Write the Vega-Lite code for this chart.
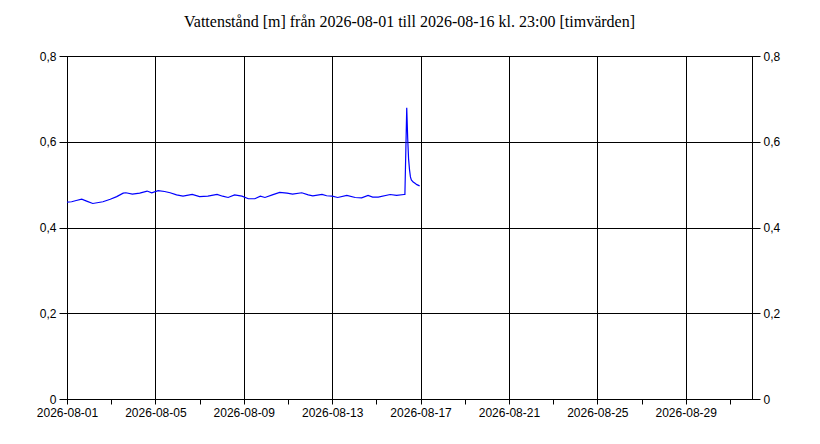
{
  "$schema": "https://vega.github.io/schema/vega-lite/v6.json",
  "width": 685,
  "height": 343,
  "autosize": "none",
  "padding": {"left": 67, "top": 56, "right": 68, "bottom": 45},
  "background": "white",
  "title": {
    "text": "Vattenstånd [m] från 2026-08-01 till 2026-08-16 kl. 23:00 [timvärden]",
    "font": "Liberation Serif",
    "fontSize": 16,
    "fontWeight": "normal",
    "color": "black",
    "anchor": "middle",
    "offset": 20
  },
  "config": {
    "view": {"stroke": "black", "strokeWidth": 1},
    "axis": {
      "domainColor": "black",
      "tickColor": "black",
      "labelColor": "black",
      "labelFont": "Liberation Sans",
      "labelFontSize": 12,
      "gridColor": "black",
      "gridOpacity": 1,
      "gridWidth": 1,
      "title": null
    }
  },
  "data": {
    "values": [
      {"t": "2026-08-01T00:00:00Z", "v": 0.459},
      {"t": "2026-08-01T05:00:00Z", "v": 0.460},
      {"t": "2026-08-01T10:00:00Z", "v": 0.463},
      {"t": "2026-08-01T16:00:00Z", "v": 0.466},
      {"t": "2026-08-01T22:00:00Z", "v": 0.461},
      {"t": "2026-08-02T04:00:00Z", "v": 0.456},
      {"t": "2026-08-02T15:00:00Z", "v": 0.460},
      {"t": "2026-08-02T23:00:00Z", "v": 0.466},
      {"t": "2026-08-03T06:00:00Z", "v": 0.472},
      {"t": "2026-08-03T13:00:00Z", "v": 0.480},
      {"t": "2026-08-03T16:00:00Z", "v": 0.481},
      {"t": "2026-08-03T23:00:00Z", "v": 0.478},
      {"t": "2026-08-04T07:00:00Z", "v": 0.480},
      {"t": "2026-08-04T15:00:00Z", "v": 0.485},
      {"t": "2026-08-04T20:00:00Z", "v": 0.481},
      {"t": "2026-08-05T03:00:00Z", "v": 0.486},
      {"t": "2026-08-05T10:00:00Z", "v": 0.484},
      {"t": "2026-08-05T16:00:00Z", "v": 0.481},
      {"t": "2026-08-05T23:00:00Z", "v": 0.476},
      {"t": "2026-08-06T06:00:00Z", "v": 0.473},
      {"t": "2026-08-06T16:00:00Z", "v": 0.477},
      {"t": "2026-08-07T00:00:00Z", "v": 0.472},
      {"t": "2026-08-07T09:00:00Z", "v": 0.473},
      {"t": "2026-08-07T19:00:00Z", "v": 0.477},
      {"t": "2026-08-08T01:00:00Z", "v": 0.473},
      {"t": "2026-08-08T07:00:00Z", "v": 0.470},
      {"t": "2026-08-08T14:00:00Z", "v": 0.476},
      {"t": "2026-08-08T22:00:00Z", "v": 0.473},
      {"t": "2026-08-09T05:00:00Z", "v": 0.467},
      {"t": "2026-08-09T12:00:00Z", "v": 0.467},
      {"t": "2026-08-09T18:00:00Z", "v": 0.473},
      {"t": "2026-08-09T23:00:00Z", "v": 0.470},
      {"t": "2026-08-10T07:00:00Z", "v": 0.476},
      {"t": "2026-08-10T15:00:00Z", "v": 0.482},
      {"t": "2026-08-10T23:00:00Z", "v": 0.480},
      {"t": "2026-08-11T05:00:00Z", "v": 0.478},
      {"t": "2026-08-11T15:00:00Z", "v": 0.481},
      {"t": "2026-08-11T22:00:00Z", "v": 0.476},
      {"t": "2026-08-12T03:00:00Z", "v": 0.474},
      {"t": "2026-08-12T13:00:00Z", "v": 0.477},
      {"t": "2026-08-12T18:00:00Z", "v": 0.474},
      {"t": "2026-08-13T00:00:00Z", "v": 0.473},
      {"t": "2026-08-13T06:00:00Z", "v": 0.470},
      {"t": "2026-08-13T16:00:00Z", "v": 0.475},
      {"t": "2026-08-14T01:00:00Z", "v": 0.470},
      {"t": "2026-08-14T08:00:00Z", "v": 0.469},
      {"t": "2026-08-14T15:00:00Z", "v": 0.475},
      {"t": "2026-08-14T20:00:00Z", "v": 0.471},
      {"t": "2026-08-15T02:00:00Z", "v": 0.471},
      {"t": "2026-08-15T15:00:00Z", "v": 0.477},
      {"t": "2026-08-15T22:00:00Z", "v": 0.475},
      {"t": "2026-08-16T06:00:00Z", "v": 0.477},
      {"t": "2026-08-16T07:00:00Z", "v": 0.477},
      {"t": "2026-08-16T09:00:00Z", "v": 0.679},
      {"t": "2026-08-16T10:00:00Z", "v": 0.610},
      {"t": "2026-08-16T11:00:00Z", "v": 0.560},
      {"t": "2026-08-16T12:00:00Z", "v": 0.535},
      {"t": "2026-08-16T13:00:00Z", "v": 0.518},
      {"t": "2026-08-16T14:00:00Z", "v": 0.511},
      {"t": "2026-08-16T16:00:00Z", "v": 0.506},
      {"t": "2026-08-16T18:00:00Z", "v": 0.503},
      {"t": "2026-08-16T20:00:00Z", "v": 0.500},
      {"t": "2026-08-16T23:00:00Z", "v": 0.497}
    ]
  },
  "layer": [
    {
      "mark": {"type": "line", "color": "#0000ff", "strokeWidth": 1.2},
      "encoding": {
        "x": {
          "field": "t",
          "type": "temporal",
          "scale": {
            "type": "utc",
            "nice": false,
            "domain": [
              {"year": 2026, "month": 8, "date": 1, "utc": true},
              {"year": 2026, "month": 9, "date": 1, "utc": true}
            ]
          },
          "axis": {
            "orient": "bottom",
            "values": [
              {"year": 2026, "month": 8, "date": 1, "utc": true},
              {"year": 2026, "month": 8, "date": 2, "utc": true},
              {"year": 2026, "month": 8, "date": 3, "utc": true},
              {"year": 2026, "month": 8, "date": 4, "utc": true},
              {"year": 2026, "month": 8, "date": 5, "utc": true},
              {"year": 2026, "month": 8, "date": 6, "utc": true},
              {"year": 2026, "month": 8, "date": 7, "utc": true},
              {"year": 2026, "month": 8, "date": 8, "utc": true},
              {"year": 2026, "month": 8, "date": 9, "utc": true},
              {"year": 2026, "month": 8, "date": 10, "utc": true},
              {"year": 2026, "month": 8, "date": 11, "utc": true},
              {"year": 2026, "month": 8, "date": 12, "utc": true},
              {"year": 2026, "month": 8, "date": 13, "utc": true},
              {"year": 2026, "month": 8, "date": 14, "utc": true},
              {"year": 2026, "month": 8, "date": 15, "utc": true},
              {"year": 2026, "month": 8, "date": 16, "utc": true},
              {"year": 2026, "month": 8, "date": 17, "utc": true},
              {"year": 2026, "month": 8, "date": 18, "utc": true},
              {"year": 2026, "month": 8, "date": 19, "utc": true},
              {"year": 2026, "month": 8, "date": 20, "utc": true},
              {"year": 2026, "month": 8, "date": 21, "utc": true},
              {"year": 2026, "month": 8, "date": 22, "utc": true},
              {"year": 2026, "month": 8, "date": 23, "utc": true},
              {"year": 2026, "month": 8, "date": 24, "utc": true},
              {"year": 2026, "month": 8, "date": 25, "utc": true},
              {"year": 2026, "month": 8, "date": 26, "utc": true},
              {"year": 2026, "month": 8, "date": 27, "utc": true},
              {"year": 2026, "month": 8, "date": 28, "utc": true},
              {"year": 2026, "month": 8, "date": 29, "utc": true},
              {"year": 2026, "month": 8, "date": 30, "utc": true},
              {"year": 2026, "month": 8, "date": 31, "utc": true}
            ],
            "grid": true,
            "gridOpacity": {"condition": {"test": "(utcdate(datum.value) - 1) % 4 === 0", "value": 1}, "value": 0},
            "labelExpr": "(utcdate(datum.value) - 1) % 4 === 0 ? utcFormat(datum.value, '%Y-%m-%d') : ''",
            "labelOverlap": false,
            "labelFlush": false,
            "labelBound": false,
            "tickSize": 5,
            "labelPadding": 3
          }
        },
        "y": {
          "field": "v",
          "type": "quantitative",
          "scale": {"domain": [0, 0.8], "nice": false, "zero": false},
          "axis": {
            "orient": "left",
            "values": [0, 0.2, 0.4, 0.6, 0.8],
            "grid": true,
            "tickSize": 8,
            "labelPadding": 3,
            "labelExpr": "datum.value == 0 ? '0' : replace(format(datum.value, '.1f'), '.', ',')"
          }
        }
      }
    },
    {
      "mark": {"type": "line", "opacity": 0},
      "encoding": {
        "x": {
          "field": "t",
          "type": "temporal",
          "scale": {
            "type": "utc",
            "nice": false,
            "domain": [
              {"year": 2026, "month": 8, "date": 1, "utc": true},
              {"year": 2026, "month": 9, "date": 1, "utc": true}
            ]
          }
        },
        "y": {
          "field": "v",
          "type": "quantitative",
          "scale": {"domain": [0, 0.8], "nice": false, "zero": false},
          "axis": {
            "orient": "right",
            "values": [0, 0.2, 0.4, 0.6, 0.8],
            "grid": false,
            "tickSize": 8,
            "labelPadding": 3,
            "labelExpr": "datum.value == 0 ? '0' : replace(format(datum.value, '.1f'), '.', ',')"
          }
        }
      }
    }
  ],
  "resolve": {"axis": {"y": "independent"}}
}
